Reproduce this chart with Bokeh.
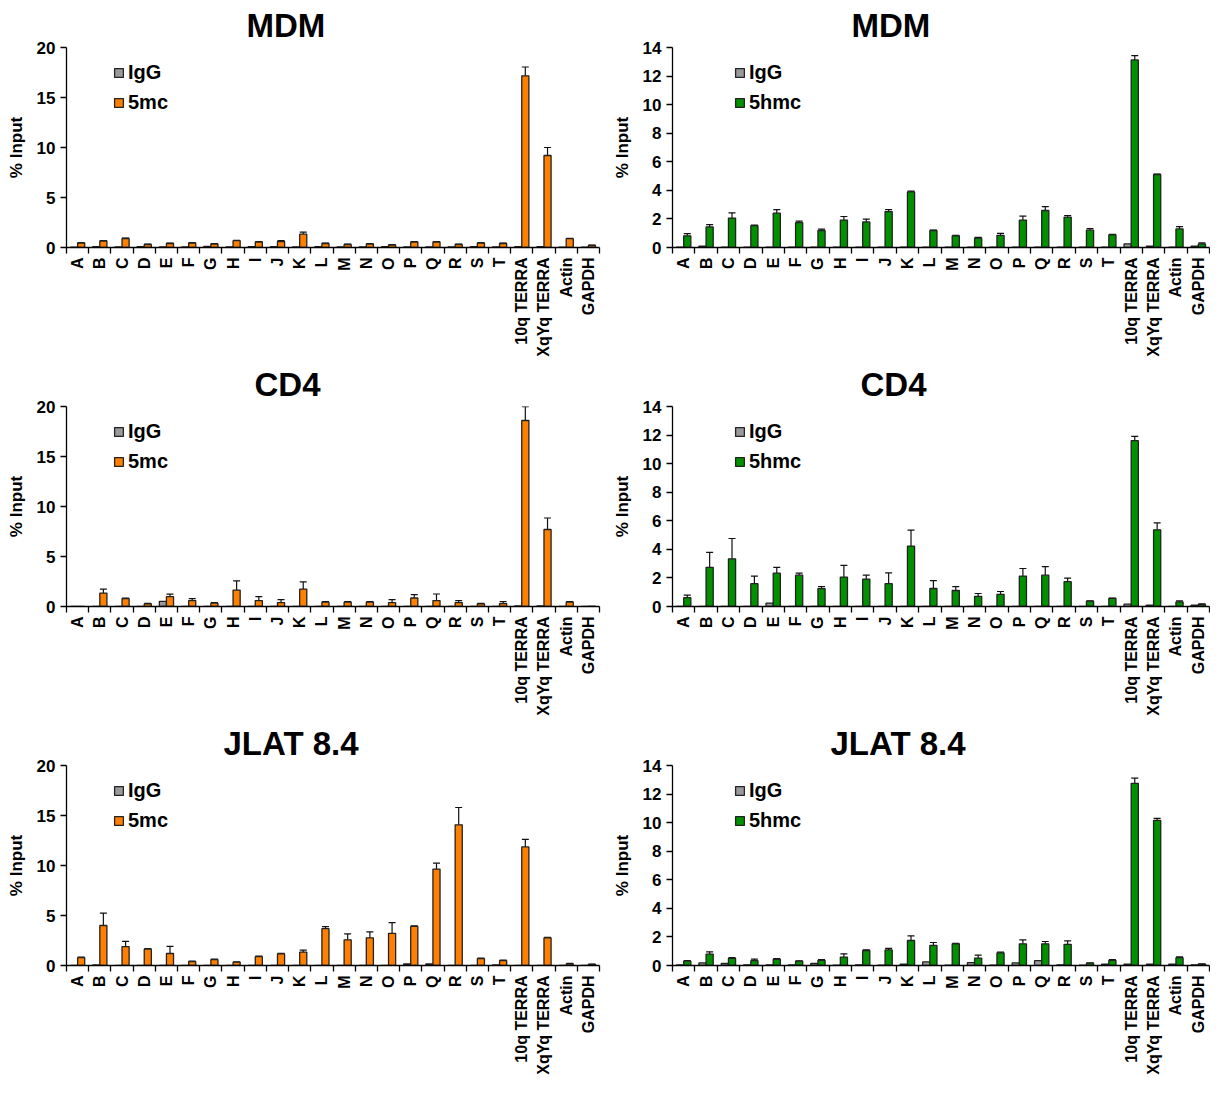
import numpy as np
from bokeh.plotting import figure
from bokeh.models import (ColumnDataSource, Range1d, FixedTicker, Whisker, TeeHead,
                          Legend, LegendItem, Title)
from bokeh.layouts import column, row
from bokeh.embed import file_html
from bokeh.resources import INLINE

categories = ["A", "B", "C", "D", "E", "F", "G", "H", "I", "J", "K", "L", "M", "N",
              "O", "P", "Q", "R", "S", "T", "10q TERRA", "XqYq TERRA", "Actin", "GAPDH"]

# MDM
mdm_5mc = [0.45, 0.65, 0.9, 0.3, 0.4, 0.45, 0.35, 0.68, 0.55, 0.6, 1.33, 0.4, 0.3, 0.35,
           0.25, 0.55, 0.55, 0.3, 0.45, 0.4, 17.17, 9.2, 0.88, 0.2]
mdm_5mc_err = [0.05, 0.05, 0.05, 0.03, 0.03, 0.03, 0.03, 0.03, 0.03, 0.1, 0.2, 0.03, 0.03, 0.03,
               0.03, 0.03, 0.03, 0.03, 0.03, 0.03, 0.88, 0.8, 0.03, 0.03]
mdm_5mc_igg = [0.03, 0.08, 0.05, 0.08, 0.06, 0.05, 0.1, 0.05, 0.08, 0.08, 0.05, 0.08, 0.06, 0.05,
               0.08, 0.05, 0.05, 0.05, 0.08, 0.06, 0.08, 0.08, 0.03, 0.03]
mdm_5hmc = [0.82, 1.44, 2.06, 1.53, 2.4, 1.74, 1.19, 1.92, 1.79, 2.52, 3.89, 1.19, 0.82, 0.66,
            0.85, 1.92, 2.59, 2.13, 1.21, 0.89, 13.13, 5.11, 1.3, 0.25]
mdm_5hmc_err = [0.15, 0.16, 0.37, 0.03, 0.25, 0.1, 0.1, 0.25, 0.2, 0.14, 0.05, 0.03, 0.03, 0.05,
                0.14, 0.27, 0.27, 0.11, 0.11, 0.03, 0.3, 0.03, 0.16, 0.07]
mdm_5hmc_igg = [0.02, 0.1, 0.02, 0.02, 0.02, 0.02, 0.02, 0.02, 0.02, 0.02, 0.02, 0.02, 0.02, 0.02,
                0.02, 0.02, 0.02, 0.02, 0.02, 0.02, 0.25, 0.1, 0.02, 0.1]

# CD4
cd4_5mc = [0.0, 1.34, 0.79, 0.26, 0.98, 0.59, 0.33, 1.64, 0.59, 0.39, 1.74, 0.43, 0.43, 0.43,
           0.39, 0.85, 0.59, 0.39, 0.26, 0.3, 18.6, 7.7, 0.43, 0.02]
cd4_5mc_err = [0.0, 0.4, 0.06, 0.05, 0.26, 0.2, 0.05, 0.92, 0.4, 0.3, 0.72, 0.05, 0.05, 0.05,
               0.3, 0.33, 0.66, 0.2, 0.05, 0.2, 1.38, 1.15, 0.05, 0.0]
cd4_5mc_igg = [0.0, 0.0, 0.0, 0.0, 0.52, 0.0, 0.0, 0.0, 0.0, 0.0, 0.0, 0.0, 0.0, 0.0,
               0.0, 0.0, 0.0, 0.0, 0.0, 0.0, 0.05, 0.05, 0.0, 0.0]
cd4_5hmc = [0.62, 2.74, 3.34, 1.6, 2.33, 2.19, 1.26, 2.06, 1.92, 1.6, 4.23, 1.26, 1.12, 0.71,
            0.85, 2.13, 2.19, 1.74, 0.37, 0.57, 11.61, 5.37, 0.32, 0.14]
cd4_5hmc_err = [0.18, 1.05, 1.42, 0.53, 0.41, 0.14, 0.14, 0.82, 0.27, 0.75, 1.12, 0.55, 0.27, 0.2,
                0.2, 0.53, 0.6, 0.25, 0.02, 0.02, 0.3, 0.48, 0.07, 0.05]
cd4_5hmc_igg = [0.01, 0.01, 0.01, 0.01, 0.23, 0.01, 0.01, 0.01, 0.01, 0.01, 0.01, 0.01, 0.01, 0.01,
                0.01, 0.01, 0.01, 0.01, 0.01, 0.01, 0.16, 0.09, 0.01, 0.09]

# JLAT 8.4
jlat_5mc = [0.78, 4.0, 1.89, 1.63, 1.2, 0.39, 0.59, 0.33, 0.88, 1.17, 1.34, 3.68, 2.57, 2.77,
            3.22, 3.91, 9.64, 14.07, 0.68, 0.49, 11.86, 2.77, 0.16, 0.1]
jlat_5mc_err = [0.05, 1.24, 0.52, 0.05, 0.72, 0.05, 0.05, 0.03, 0.05, 0.05, 0.2, 0.2, 0.59, 0.59,
                1.07, 0.05, 0.59, 1.73, 0.05, 0.05, 0.75, 0.05, 0.05, 0.03]
jlat_5mc_igg = [0.0, 0.05, 0.0, 0.0, 0.0, 0.0, 0.0, 0.0, 0.0, 0.0, 0.0, 0.0, 0.0, 0.0,
                0.0, 0.15, 0.15, 0.0, 0.0, 0.05, 0.0, 0.0, 0.0, 0.0]
jlat_5hmc = [0.3, 0.8, 0.5, 0.34, 0.43, 0.3, 0.36, 0.59, 1.05, 1.09, 1.75, 1.41, 1.52, 0.52,
             0.89, 1.52, 1.52, 1.48, 0.16, 0.36, 12.75, 10.16, 0.55, 0.09]
jlat_5hmc_err = [0.05, 0.16, 0.05, 0.11, 0.05, 0.03, 0.05, 0.23, 0.05, 0.11, 0.32, 0.2, 0.03, 0.2,
                 0.05, 0.27, 0.16, 0.25, 0.02, 0.05, 0.36, 0.14, 0.05, 0.02]
jlat_5hmc_igg = [0.05, 0.18, 0.14, 0.05, 0.05, 0.05, 0.14, 0.02, 0.05, 0.02, 0.1, 0.25, 0.02, 0.2,
                 0.02, 0.18, 0.34, 0.05, 0.02, 0.1, 0.1, 0.1, 0.1, 0.05]

titles = ["MDM", "MDM", "CD4", "CD4", "JLAT 8.4", "JLAT 8.4"]
y_ticks_5mc = [0, 5, 10, 15, 20]
y_ticks_5hmc = [0, 2, 4, 6, 8, 10, 12, 14]

ORANGE = "#FF8000"
GREEN = "#009000"
GREY = "#9A9A9A"
FONT = "Liberation Sans"
FRAME_H = 200


def make_panel(title, title_offset, main, err, igg, main_label, color, ymax, yticks,
               frame_w, border_left, border_right, legend_dx):
    n = len(categories)
    idx = np.arange(n)
    src = ColumnDataSource(dict(
        xi=idx - 0.16, xm=idx + 0.16,
        igg=igg, main=main, upper=np.array(main) + np.array(err)))
    p = figure(frame_width=frame_w, frame_height=FRAME_H, output_backend="svg",
               toolbar_location=None,
               x_range=Range1d(-0.5, n - 0.5), y_range=Range1d(0, ymax),
               min_border_left=border_left, min_border_right=border_right,
               min_border_top=36, min_border_bottom=100)
    p.title = Title(text=title, align="left", offset=title_offset,
                    text_font=FONT, text_font_size="33px", text_font_style="bold",
                    text_color="black", standoff=8)
    p.outline_line_color = None
    p.grid.visible = False
    r_igg = p.vbar(x="xi", top="igg", width=0.32, source=src, fill_color=GREY,
                   line_color="#222222", line_width=1.3)
    r_main = p.vbar(x="xm", top="main", width=0.32, source=src, fill_color=color,
                    line_color="#222222", line_width=1.3)
    wh = Whisker(source=src, base="xm", upper="upper", lower="main",
                 upper_head=TeeHead(size=7, line_color="#111111", line_width=1.2),
                 lower_head=None, line_color="#111111", line_width=1.2)
    p.add_layout(wh)

    xa = p.xaxis[0]
    xa.ticker = FixedTicker(ticks=list(idx), minor_ticks=list(np.arange(-0.5, n, 1.0)))
    xa.major_label_overrides = {int(i): c for i, c in zip(idx, categories)}
    xa.major_label_orientation = np.pi / 2
    xa.major_tick_out = 0
    xa.major_tick_in = 0
    xa.minor_tick_out = 6
    xa.minor_tick_in = 0
    xa.minor_tick_line_color = "black"
    xa.minor_tick_line_width = 1.3
    xa.major_label_standoff = 4
    xa.major_label_text_font = FONT
    xa.major_label_text_font_size = "16px"
    xa.major_label_text_font_style = "bold"
    xa.major_label_text_color = "black"
    xa.axis_line_color = "black"
    xa.axis_line_width = 1.3

    ya = p.yaxis[0]
    ya.ticker = FixedTicker(ticks=yticks)
    ya.major_tick_out = 6
    ya.major_tick_in = 0
    ya.minor_tick_out = 0
    ya.major_tick_line_width = 1.3
    ya.major_tick_line_color = "black"
    ya.axis_line_color = "black"
    ya.axis_line_width = 1.3
    ya.major_label_text_font = FONT
    ya.major_label_text_font_size = "17px"
    ya.major_label_text_font_style = "bold"
    ya.major_label_text_color = "black"
    ya.axis_label = "% Input"
    ya.axis_label_text_font = FONT
    ya.axis_label_text_font_size = "17px"
    ya.axis_label_text_font_style = "bold"
    ya.axis_label_text_color = "black"
    ya.axis_label_standoff = 8

    legend = Legend(items=[LegendItem(label="IgG", renderers=[r_igg]),
                           LegendItem(label=main_label, renderers=[r_main])],
                    location=(legend_dx, 133), orientation="vertical",
                    glyph_width=11, glyph_height=11, label_height=22, spacing=7,
                    padding=0, margin=0, label_standoff=4,
                    label_text_font=FONT, label_text_font_size="20px",
                    label_text_font_style="bold", label_text_color="black",
                    background_fill_alpha=0, border_line_color=None)
    p.add_layout(legend)
    return p


# left panels: 66 + 533 + 10 = 609 px wide; right panels: 63 + 537 + 1 = 601 px wide
p1 = make_panel(titles[0], 180, mdm_5mc, mdm_5mc_err, mdm_5mc_igg, "5mc", ORANGE, 20,
                y_ticks_5mc, 533, 66, 10, 47)
p2 = make_panel(titles[1], 179, mdm_5hmc, mdm_5hmc_err, mdm_5hmc_igg, "5hmc", GREEN, 14,
                y_ticks_5hmc, 537, 63, 1, 62)
p3 = make_panel(titles[2], 188, cd4_5mc, cd4_5mc_err, cd4_5mc_igg, "5mc", ORANGE, 20,
                y_ticks_5mc, 533, 66, 10, 47)
p4 = make_panel(titles[3], 188, cd4_5hmc, cd4_5hmc_err, cd4_5hmc_igg, "5hmc", GREEN, 14,
                y_ticks_5hmc, 537, 63, 1, 62)
p5 = make_panel(titles[4], 157, jlat_5mc, jlat_5mc_err, jlat_5mc_igg, "5mc", ORANGE, 20,
                y_ticks_5mc, 533, 66, 10, 47)
p6 = make_panel(titles[5], 158, jlat_5hmc, jlat_5hmc_err, jlat_5hmc_igg, "5hmc", GREEN, 14,
                y_ticks_5hmc, 537, 63, 1, 62)

layout = column(row(p1, p2), row(p3, p4), row(p5, p6))
open("out.html", "w").write(file_html(layout, INLINE))
